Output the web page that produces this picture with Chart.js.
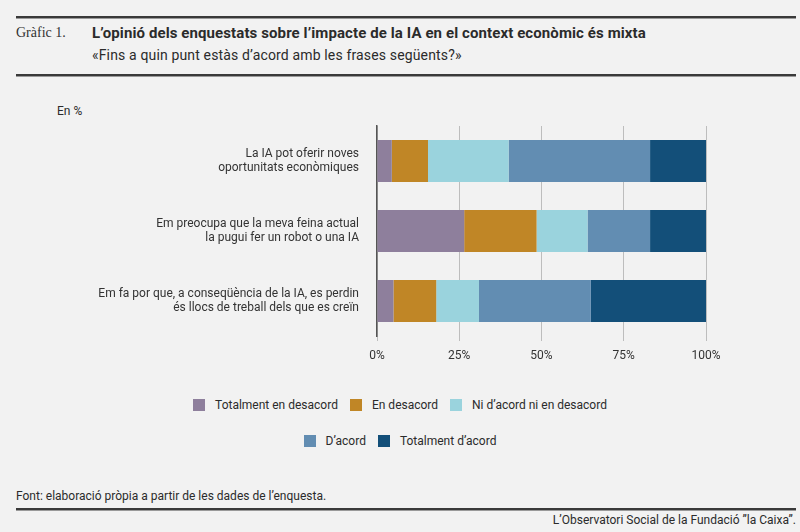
<!DOCTYPE html>
<html lang="ca">
<head>
<meta charset="utf-8">
<title>Gràfic 1</title>
<script src="https://cdn.jsdelivr.net/npm/chart.js@4/dist/chart.umd.min.js"></script>
<style>
  html, body { margin: 0; padding: 0; }
  body {
    width: 800px; height: 532px; position: relative; overflow: hidden;
    background: #f2f2f2; color: #2b2b2b;
    font-family: Roboto, "Liberation Sans", sans-serif;
  }
  .regla { position: absolute; left: 16px; right: 4px; height: 2px; background: #3a3a3a; }
  .regla::after { content: ''; position: absolute; left: 0; right: 0; top: 2px; height: 1px; background: #9a9a9a; }
  #num { position: absolute; left: 16px; top: 25px; font: 14px "Liberation Serif", serif; color: #333; }
  #titol { position: absolute; left: 92px; top: 24px; font-weight: 700; font-size: 15px; letter-spacing: 0.1px; }
  #subtitol { position: absolute; left: 92px; top: 47px; font-size: 14px; letter-spacing: 0.15px; }
  #unitat { position: absolute; left: 57px; top: 104px; font-size: 12px; }
  #grafic { position: absolute; left: 0; top: 120px; width: 730px; height: 246px; }
  .llegenda { position: absolute; left: 0; width: 800px; display: flex; justify-content: center; font-size: 12px; }
  .llegenda span.item { display: flex; align-items: center; margin: 0 6px; }
  .llegenda i { display: inline-block; width: 12px; height: 12px; margin-right: 10px; }
  #font { position: absolute; left: 16px; top: 489px; font-size: 12px; }
  #credit { position: absolute; right: 4px; top: 513px; font-size: 12px; }
</style>
</head>
<body>
<div class="regla" style="top:16px"></div>
<div id="num">Gràfic 1.</div>
<div id="titol">L’opinió dels enquestats sobre l’impacte de la IA en el context econòmic és mixta</div>
<div id="subtitol">«Fins a quin punt estàs d’acord amb les frases següents?»</div>
<div class="regla" style="top:74px"></div>
<div id="unitat">En %</div>
<div id="grafic"><canvas id="canvasGrafic"></canvas></div>
<div class="llegenda" id="llegenda1" style="top:398px"></div>
<div class="llegenda" id="llegenda2" style="top:434px"></div>
<div id="font">Font: elaboració pròpia a partir de les dades de l’enquesta.</div>
<div class="regla" style="top:508px"></div>
<div id="credit">L’Observatori Social de la Fundació ”la Caixa”.</div>

<script>
// Dades (en %)
const categories = [
    ['La IA pot oferir noves', 'oportunitats econòmiques'],
    ['Em preocupa que la meva feina actual', 'la pugui fer un robot o una IA'],
    ['Em fa por que, a conseqüència de la IA, es perdin', 'és llocs de treball dels que es creïn']
];
const series = ['Totalment en desacord', 'En desacord', 'Ni d’acord ni en desacord', 'D’acord', 'Totalment d’acord'];
const totalmentDesacord = [4.5, 26.5, 5];
const enDesacord        = [11, 22, 13];
const niAcord           = [24.5, 15.5, 13];
const dAcord            = [43, 19, 34];
const totalmentAcord    = [17, 17, 35];
const ticksX = [0, 25, 50, 75, 100];

const colors = ['#8e7f9c', '#c08626', '#9ad3dd', '#628db2', '#134f79'];
const valors = [totalmentDesacord, enDesacord, niAcord, dAcord, totalmentAcord];

/* ── Llegenda HTML (3 + 2) ───────────────────────────────── */
function afegirLlegenda(idConteneur, desde, fins) {
    const cont = document.getElementById(idConteneur);
    for (let i = desde; i < fins; i++) {
        const it = document.createElement('span');
        it.className = 'item';
        it.innerHTML = `<i style="background:${colors[i]}"></i>${series[i]}`;
        cont.appendChild(it);
    }
}
afegirLlegenda('llegenda1', 0, 3);
afegirLlegenda('llegenda2', 3, 5);

/* ── Gràfic ──────────────────────────────────────────────── */
new Chart(document.getElementById('canvasGrafic'), {
    type: 'bar',
    data: {
        labels: categories,
        datasets: series.map((s, i) => ({
            label: s,
            data: valors[i],
            backgroundColor: colors[i],
            borderWidth: 0,
            categoryPercentage: 1,
            barPercentage: 0.6
        }))
    },
    options: {
        indexAxis: 'y',
        responsive: true,
        maintainAspectRatio: false,
        animation: false,
        layout: { padding: { top: 6, right: 24, left: 0, bottom: 0 } },
        plugins: { legend: { display: false }, tooltip: { enabled: false } },
        scales: {
            x: {
                stacked: true,
                min: 0, max: 100,
                afterBuildTicks: s => { s.ticks = ticksX.map(v => ({ value: v })); },
                afterFit: s => { s.height = 30; },
                grid: { color: '#bdbdbd', lineWidth: 1, tickLength: 5 },
                border: { display: false },
                ticks: {
                    padding: 8,
                    color: '#333',
                    font: { family: 'Roboto', size: 12 },
                    callback: v => v + '%'
                }
            },
            y: {
                stacked: true,
                afterFit: s => { s.width = 377; s.paddingTop = 0; s.paddingBottom = 0; },
                grid: { display: false, drawTicks: false },
                border: { display: true, color: '#555', width: 1.5 },
                ticks: {
                    padding: 18,
                    color: '#333',
                    font: { family: 'Roboto', size: 12, lineHeight: 1.15 }
                }
            }
        }
    }
});
</script>
</body>
</html>
